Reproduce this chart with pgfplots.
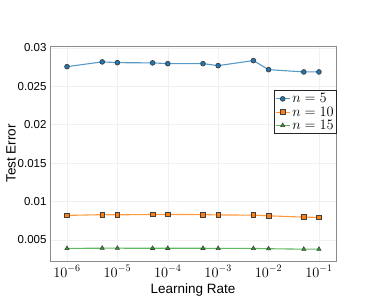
\documentclass[border=0pt]{standalone}
\usepackage{fontspec}
\setmainfont{Liberation Sans}
\usepackage{pgfplots}
\pgfplotsset{compat=1.18}
\definecolor{tblue}{HTML}{1F77B4}
\definecolor{torange}{HTML}{FF7F0E}
\definecolor{tgreen}{HTML}{2CA02C}
\definecolor{edgegray}{HTML}{404040}
\begin{document}
\begin{tikzpicture}
\path[use as bounding box] (-50pt,-38pt) rectangle (324pt,261pt);
\begin{axis}[
  at={(0,0)}, anchor=south west,
  scale only axis, width=286pt, height=215pt,
  xmode=log,
  xmin=4.6e-7, xmax=0.218,
  ymin=0.00224, ymax=0.03026,
  scaled y ticks=false,
  xtick={1e-6,1e-5,1e-4,1e-3,1e-2,1e-1},
  ytick={0.005,0.01,0.015,0.02,0.025,0.03},
  yticklabels={0.005,0.01,0.015,0.02,0.025,0.03},
  minor xtick={},
  tick style={draw=none},
  grid=major,
  major grid style={draw=gray!12, line width=0.5pt},
  axis line style={draw=gray!90, line width=0.7pt},
  xticklabel style={font=\fontsize{14}{16}\selectfont, yshift=-1pt},
  yticklabel style={font=\fontsize{11.5}{13}\selectfont},
  xlabel={Learning Rate},
  ylabel={Test Error},
  label style={font=\fontsize{13.5}{15}\selectfont},
  xlabel style={yshift=0pt},
  ylabel style={yshift=-5pt},
  legend style={at={(1.004,0.795)}, anchor=north east, draw=black!85, line width=0.8pt,
    font=\fontsize{13.5}{13.5}\selectfont, inner sep=1pt, row sep=-1.5pt, fill=white},
  legend cell align=left,
  legend image code/.code={\draw[#1] (0pt,0pt) -- (14pt,0pt); \draw[#1, mark repeat=1, mark phase=1] plot coordinates {(7pt,0pt)};},
]
\addplot[color=tblue!75, line width=1.1pt, mark=*, mark size=2.4pt,
  mark options={fill=tblue, draw=edgegray, line width=0.7pt}] coordinates {
  (1e-6,0.02757) (5e-6,0.02819) (1e-5,0.02809) (5e-5,0.02806) (1e-4,0.02796)
  (5e-4,0.02796) (1e-3,0.02770) (5e-3,0.02836) (1e-2,0.02718) (5e-2,0.02688) (1e-1,0.02688)};
\addlegendentry{$n=5$}
\addplot[color=torange!80, line width=1.1pt, mark=square*, mark size=2.3pt,
  mark options={fill=torange, draw=edgegray, line width=0.7pt}] coordinates {
  (1e-6,0.00818) (5e-6,0.00828) (1e-5,0.00826) (5e-5,0.00830) (1e-4,0.00830)
  (5e-4,0.00829) (1e-3,0.00824) (5e-3,0.00822) (1e-2,0.00813) (5e-2,0.00796) (1e-1,0.00792)};
\addlegendentry{$n=10$}
\addplot[color=tgreen!75, line width=1.1pt, mark=triangle*, mark size=2.4pt,
  mark options={fill=tgreen, draw=edgegray, line width=0.6pt}] coordinates {
  (1e-6,0.00388) (5e-6,0.00391) (1e-5,0.00391) (5e-5,0.00390) (1e-4,0.00390)
  (5e-4,0.00390) (1e-3,0.00388) (5e-3,0.00388) (1e-2,0.00384) (5e-2,0.00378) (1e-1,0.00378)};
\addlegendentry{$n=15$}
\end{axis}
\end{tikzpicture}
\end{document}
